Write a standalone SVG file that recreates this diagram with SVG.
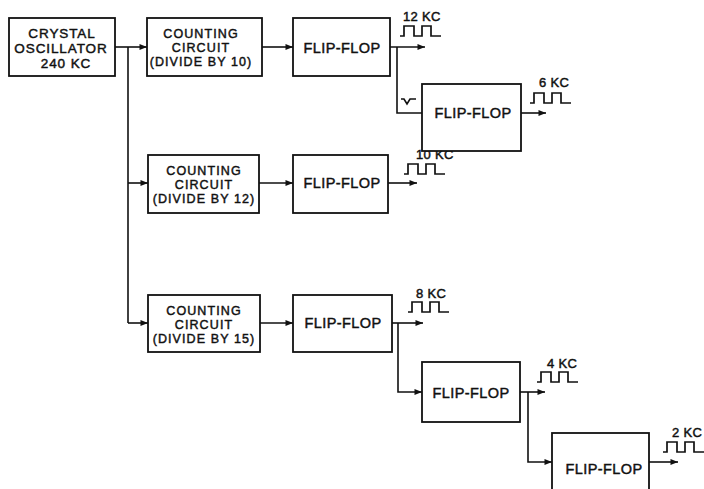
<svg xmlns="http://www.w3.org/2000/svg" width="704" height="489" viewBox="0 0 704 489">
<style>
.box{fill:#fff;stroke:#111;stroke-width:1.8}
.ln{fill:none;stroke:#111;stroke-width:1.6}
.wave{fill:none;stroke:#111;stroke-width:1.7}
text{font-family:"Liberation Sans",Arial,sans-serif;fill:#111;stroke:#111;stroke-width:0.45px;text-anchor:middle}
.t{font-size:13.5px;letter-spacing:0.9px}
.c{font-size:12.5px;letter-spacing:1.1px}
.f{font-size:14.5px;letter-spacing:0.4px}
.k{font-size:13px;letter-spacing:0.3px;text-anchor:start}
</style>
<defs>
<marker id="ah" viewBox="0 0 10 8" refX="10" refY="4" markerWidth="8" markerHeight="6" markerUnits="userSpaceOnUse" orient="auto">
<path d="M0,0 L10,4 L0,8 Z" fill="#111"/>
</marker>
<path id="sq" d="M0,10 H4 V0 H14 V10 H22 V0 H31 V10 H41"/>
</defs>
<rect width="704" height="489" fill="#fff"/>
<g id="connectors">
<line class="ln" x1="115" y1="47" x2="147" y2="47" marker-end="url(#ah)"/>
<line class="ln" x1="128" y1="47" x2="128" y2="323"/>
<line class="ln" x1="128" y1="183" x2="148" y2="183" marker-end="url(#ah)"/>
<line class="ln" x1="128" y1="323" x2="148" y2="323" marker-end="url(#ah)"/>
<line class="ln" x1="262" y1="47" x2="293" y2="47" marker-end="url(#ah)"/>
<line class="ln" x1="259" y1="183" x2="293" y2="183" marker-end="url(#ah)"/>
<line class="ln" x1="260" y1="323" x2="293" y2="323" marker-end="url(#ah)"/>
<line class="ln" x1="390" y1="47" x2="425" y2="47" marker-end="url(#ah)"/>
<polyline class="ln" points="397,47 397,113 422,113"/>
<path class="ln" d="M401,99 H404 L407,104 L410,99 H416" stroke-width="1.8"/>
<line class="ln" x1="521" y1="113" x2="546" y2="113" marker-end="url(#ah)"/>
<line class="ln" x1="388" y1="183" x2="417" y2="183" marker-end="url(#ah)"/>
<line class="ln" x1="392" y1="323" x2="423" y2="323" marker-end="url(#ah)"/>
<polyline class="ln" points="398,323 398,392 422,392" marker-end="url(#ah)"/>
<line class="ln" x1="520" y1="392" x2="545" y2="392" marker-end="url(#ah)"/>
<polyline class="ln" points="528,392 528,462 552,462" marker-end="url(#ah)"/>
<line class="ln" x1="649" y1="462" x2="678" y2="462" marker-end="url(#ah)"/>
</g>
<g id="waves">
<use href="#sq" class="wave" x="400" y="26"/>
<use href="#sq" class="wave" x="530" y="93"/>
<use href="#sq" class="wave" x="404" y="164"/>
<use href="#sq" class="wave" x="408" y="302"/>
<use href="#sq" class="wave" x="537" y="372"/>
<use href="#sq" class="wave" x="663" y="442"/>
<text class="k" x="403" y="21">12 KC</text>
<text class="k" x="539" y="87">6 KC</text>
<text class="k" x="416" y="159">10 KC</text>
<text class="k" x="416" y="298">8 KC</text>
<text class="k" x="547" y="368">4 KC</text>
<text class="k" x="672" y="437">2 KC</text>
</g>
<g id="osc">
<rect class="box" x="9" y="18" width="106" height="58"/>
<text class="t" x="62" y="38">CRYSTAL</text>
<text class="t" x="61" y="53">OSCILLATOR</text>
<text class="t" x="66" y="67.5">240 KC</text>
</g>
<g id="cc1">
<rect class="box" x="147" y="18" width="115" height="58"/>
<text class="c" x="201" y="38">COUNTING</text>
<text class="c" x="201" y="52">CIRCUIT</text>
<text class="c" x="201" y="66">(DIVIDE BY 10)</text>
</g>
<g id="ff1">
<rect class="box" x="293" y="18" width="97" height="58"/>
<text class="f" x="342" y="53">FLIP-FLOP</text>
</g>
<g id="ff2">
<rect class="box" x="422" y="84" width="99" height="67"/>
<text class="f" x="473" y="118">FLIP-FLOP</text>
</g>
<g id="cc2">
<rect class="box" x="148" y="155" width="111" height="58"/>
<text class="c" x="204" y="175">COUNTING</text>
<text class="c" x="204" y="189">CIRCUIT</text>
<text class="c" x="204" y="203">(DIVIDE BY 12)</text>
</g>
<g id="ff3">
<rect class="box" x="293" y="155" width="95" height="58"/>
<text class="f" x="342" y="188">FLIP-FLOP</text>
</g>
<g id="cc3">
<rect class="box" x="148" y="295" width="112" height="57"/>
<text class="c" x="204" y="315">COUNTING</text>
<text class="c" x="204" y="329">CIRCUIT</text>
<text class="c" x="204" y="343">(DIVIDE BY 15)</text>
</g>
<g id="ff4">
<rect class="box" x="293" y="295" width="99" height="57"/>
<text class="f" x="343" y="328">FLIP-FLOP</text>
</g>
<g id="ff5">
<rect class="box" x="422" y="362" width="98" height="60"/>
<text class="f" x="471" y="398">FLIP-FLOP</text>
</g>
<g id="ff6">
<rect class="box" x="552" y="433" width="97" height="70"/>
<text class="f" x="604" y="474">FLIP-FLOP</text>
</g>
</svg>
